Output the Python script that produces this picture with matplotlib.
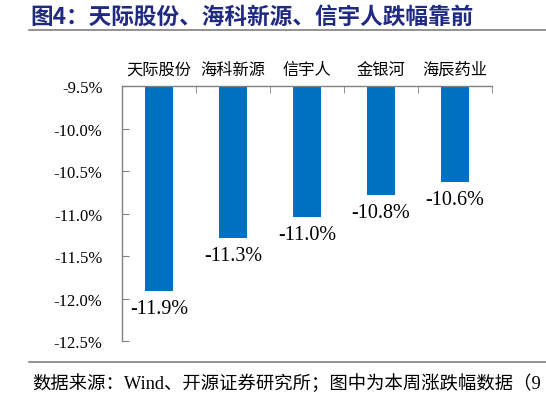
import matplotlib.pyplot as plt
import numpy as np
from matplotlib.lines import Line2D

names = ["天际股份", "海科新源", "信宇人", "金银河", "海辰药业"]
chg = [-11.91, -11.29, -11.04, -10.78, -10.63]
chg_labels = ["-11.9%", "-11.3%", "-11.0%", "-10.8%", "-10.6%"]
yticks = [-9.5, -10.0, -10.5, -11.0, -11.5, -12.0, -12.5]

serif_cjk = ["Liberation Serif", "Noto Sans CJK SC"]
grey = "#808080"

fig = plt.figure(figsize=(5.46, 4.06), dpi=100)
ax = fig.add_axes([122 / 546, 1 - 342 / 406, 370 / 546, 255 / 406])

x = np.arange(len(names))
ax.bar(x, chg, width=0.39, color="#0070C0")
ax.set_xlim(-0.5, len(names) - 0.5)
ax.set_ylim(-12.5, -9.5)

for sp in ["right", "bottom"]:
    ax.spines[sp].set_visible(False)
for sp in ["top", "left"]:
    ax.spines[sp].set_color(grey)
    ax.spines[sp].set_linewidth(1.0)

# category names above the axis line, boundary ticks pointing down
ax.xaxis.tick_top()
ax.set_xticks(x)
ax.set_xticklabels(names, family=["Noto Sans CJK SC"], fontsize=11.7)
ax.tick_params(axis="x", which="major", length=0, pad=6)
ax.set_xticks(np.arange(-0.5, len(names)), minor=True)
ax.tick_params(axis="x", which="minor", direction="in", length=5, color=grey, top=True)

ax.set_yticks(yticks)
ax.set_yticklabels(["%.1f%%" % v for v in yticks], family=serif_cjk, fontsize=12)
ax.tick_params(axis="y", direction="in", length=5, color=grey, pad=14)

for xi, v, lab in zip(x, chg, chg_labels):
    ax.annotate(lab, (xi, v), xytext=(0, -6), textcoords="offset points",
                ha="center", va="top", fontsize=14.5, family=serif_cjk)

fig.text(30 / 546, 1 - 17 / 406, "图4：天际股份、海科新源、信宇人跌幅靠前",
         fontsize=16.3, fontweight="bold", color="#1F2A80",
         family=["Noto Sans CJK SC"], va="center", ha="left")
fig.add_artist(Line2D([29 / 546, 1], [1 - 31 / 406] * 2, color=grey, lw=1.2))
fig.add_artist(Line2D([29 / 546, 1], [1 - 363 / 406] * 2, color=grey, lw=1.2))
fig.text(32 / 546, 1 - 384 / 406, "数据来源：Wind、开源证券研究所；图中为本周涨跌幅数据（9",
         fontsize=13.2, family=serif_cjk, va="center", ha="left")

fig.savefig("out.png", dpi=100)
